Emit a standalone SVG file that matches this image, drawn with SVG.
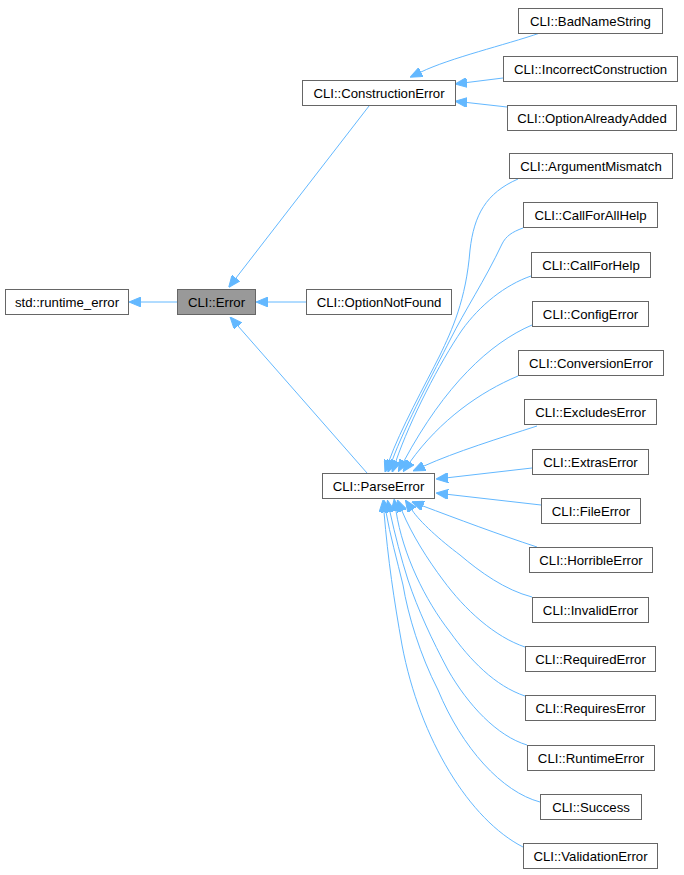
<svg xmlns="http://www.w3.org/2000/svg" width="684" height="875" viewBox="0 0 684 875">
<style>
.n rect{fill:#ffffff;stroke:#666666;stroke-width:1}
.n text{font-family:"Liberation Sans",Arial,Helvetica,sans-serif;font-size:13.2px;fill:#000000;text-anchor:middle}
#n_error rect{fill:#999999}
#edges path{fill:none;stroke:#63b8ff;stroke-width:1;marker-end:url(#ah)}
</style>
<defs>
<marker id="ah" markerUnits="userSpaceOnUse" viewBox="0 0 12 10" markerWidth="12" markerHeight="10" refX="0" refY="5" orient="auto">
<path d="M0,0 L12,5 L0,10 z" fill="#63b8ff" stroke="#63b8ff" stroke-width="1"/>
</marker>
</defs>
<rect width="684" height="875" fill="#ffffff"/>
<g id="edges">
<path d="M177,302 L141,302"/>
<path d="M306,302 L268,302"/>
<path d="M369,106 L236,278"/>
<path d="M367,473 L238,326"/>
<path d="M540,33 C505,45 450,58 421,72"/>
<path d="M503,78 L467,82.5"/>
<path d="M507,107 L467,102.5"/>
<path d="M518,179 C486,193 474,215 470,250 C466,300 452,330 440,355 C425,385 400,430 389,461"/>
<path d="M523,228 C512,232 506,236 502,244 C485,280 465,310 450,340 C435,370 405,425 392,461"/>
<path d="M531,276 C505,285 480,305 462,330 C440,362 410,420 396,461"/>
<path d="M532,325 C490,343 445,385 404,461"/>
<path d="M518,376 C480,392 440,420 410,462"/>
<path d="M537,426 C500,438 455,452 424,466"/>
<path d="M532,468 L448,477.7"/>
<path d="M541,505 L448,494.4"/>
<path d="M537,547 C500,535 455,518 423,506"/>
<path d="M532,597 C505,590 480,572 460,555 C440,540 420,522 412,510"/>
<path d="M525,647 C495,637 465,610 443,580 C428,560 412,535 402,511"/>
<path d="M525,696 C495,686 470,660 450,632 C425,600 403,555 396,511"/>
<path d="M527,745 C497,736 468,705 448,670 C432,640 418,610 408,580 C401,558 395,535 390,512"/>
<path d="M540,802 C502,792 462,748 438,690 C420,655 408,615 403,585 C397,560 390,535 386,512"/>
<path d="M523,847 C470,820 420,740 402,645 C394,600 388,560 384,512"/>
</g>
<g id="n_runtime_error" class="n"><rect x="5.5" y="289.5" width="123" height="25"/><text x="67" y="306.5">std::runtime_error</text></g>
<g id="n_error" class="n"><rect x="177.5" y="289.5" width="78" height="25"/><text x="216.5" y="306.5">CLI::Error</text></g>
<g id="n_optionnotfound" class="n"><rect x="306.5" y="289.5" width="145" height="25"/><text x="379" y="306.5">CLI::OptionNotFound</text></g>
<g id="n_constructionerror" class="n"><rect x="302.5" y="80.5" width="153" height="25"/><text x="379" y="97.5">CLI::ConstructionError</text></g>
<g id="n_badnamestring" class="n"><rect x="518.5" y="8.5" width="144" height="25"/><text x="590.5" y="25.5">CLI::BadNameString</text></g>
<g id="n_incorrectconstruction" class="n"><rect x="503.5" y="56.5" width="174" height="25"/><text x="590.5" y="73.5">CLI::IncorrectConstruction</text></g>
<g id="n_optionalreadyadded" class="n"><rect x="507.5" y="105.5" width="169" height="25"/><text x="592" y="122.5">CLI::OptionAlreadyAdded</text></g>
<g id="n_parseerror" class="n"><rect x="322.5" y="473.5" width="112" height="25"/><text x="378.5" y="490.5">CLI::ParseError</text></g>
<g id="n_argumentmismatch" class="n"><rect x="509.5" y="153.5" width="163" height="25"/><text x="591" y="170.5">CLI::ArgumentMismatch</text></g>
<g id="n_callforallhelp" class="n"><rect x="523.5" y="202.5" width="134" height="25"/><text x="590.5" y="219.5">CLI::CallForAllHelp</text></g>
<g id="n_callforhelp" class="n"><rect x="531.5" y="252.5" width="119" height="25"/><text x="591" y="269.5">CLI::CallForHelp</text></g>
<g id="n_configerror" class="n"><rect x="532.5" y="301.5" width="116" height="25"/><text x="590.5" y="318.5">CLI::ConfigError</text></g>
<g id="n_conversionerror" class="n"><rect x="518.5" y="350.5" width="145" height="25"/><text x="591" y="367.5">CLI::ConversionError</text></g>
<g id="n_excludeserror" class="n"><rect x="524.5" y="399.5" width="132" height="25"/><text x="590.5" y="416.5">CLI::ExcludesError</text></g>
<g id="n_extraserror" class="n"><rect x="532.5" y="449.5" width="116" height="25"/><text x="590.5" y="466.5">CLI::ExtrasError</text></g>
<g id="n_fileerror" class="n"><rect x="541.5" y="498.5" width="99" height="25"/><text x="591" y="515.5">CLI::FileError</text></g>
<g id="n_horribleerror" class="n"><rect x="529.5" y="547.5" width="123" height="25"/><text x="591" y="564.5">CLI::HorribleError</text></g>
<g id="n_invaliderror" class="n"><rect x="532.5" y="597.5" width="116" height="25"/><text x="590.5" y="614.5">CLI::InvalidError</text></g>
<g id="n_requirederror" class="n"><rect x="525.5" y="646.5" width="130" height="25"/><text x="590.5" y="663.5">CLI::RequiredError</text></g>
<g id="n_requireserror" class="n"><rect x="525.5" y="695.5" width="130" height="25"/><text x="590.5" y="712.5">CLI::RequiresError</text></g>
<g id="n_runtimeerror" class="n"><rect x="527.5" y="745.5" width="127" height="25"/><text x="591" y="762.5">CLI::RuntimeError</text></g>
<g id="n_success" class="n"><rect x="540.5" y="794.5" width="101" height="25"/><text x="591" y="811.5">CLI::Success</text></g>
<g id="n_validationerror" class="n"><rect x="523.5" y="843.5" width="134" height="25"/><text x="590.5" y="860.5">CLI::ValidationError</text></g>
</svg>
